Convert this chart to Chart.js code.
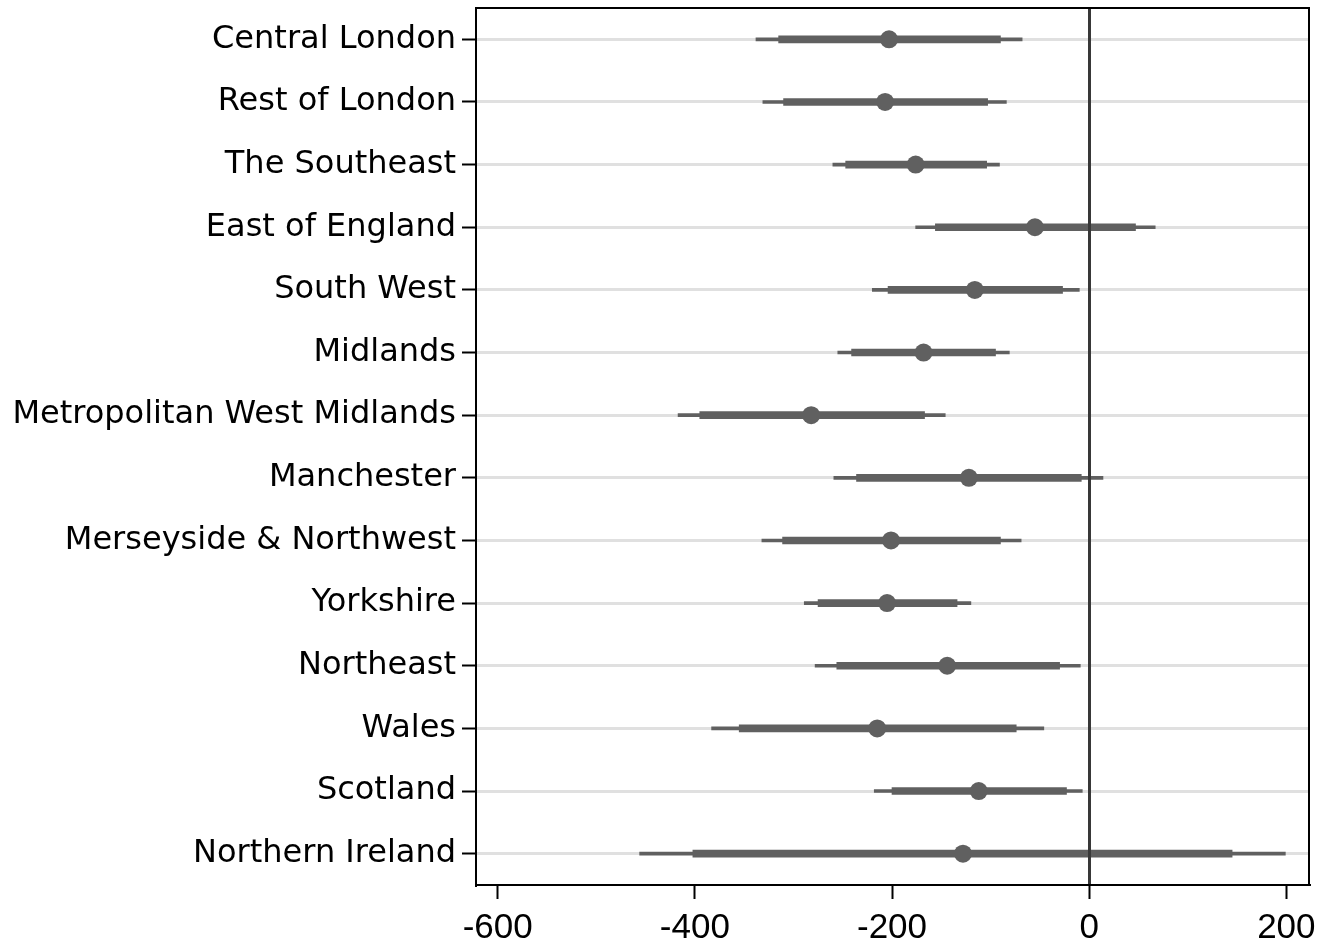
<!DOCTYPE html>
<html>
<head>
<meta charset="utf-8">
<script src="https://cdn.jsdelivr.net/npm/chart.js@4"></script>
<style>
  html, body { margin: 0; padding: 0; background: #fff; }
  #wrap { width: 1323px; height: 945px; }
</style>
</head>
<body>
<div id="wrap"><canvas id="chart"></canvas></div>
<script>
// --- data ---
const regions = ['Central London', 'Rest of London', 'The Southeast', 'East of England', 'South West',
    'Midlands', 'Metropolitan West Midlands', 'Manchester', 'Merseyside & Northwest', 'Yorkshire',
    'Northeast', 'Wales', 'Scotland', 'Northern Ireland'];
const estimate = [-203, -207, -176, -55, -116, -168, -282, -122, -201, -205, -144, -215, -112, -128];
const ci95Low  = [-338, -331, -260, -176, -220, -255, -417, -259, -332, -289, -278, -383, -218, -456];
const ci95High = [-68, -84, -91, 67, -10, -81, -146, 14, -69, -120, -9, -46, -7, 199];
const ci90Low  = [-315, -310, -247, -156, -204, -241, -395, -236, -311, -275, -256, -355, -200, -402];
const ci90High = [-90, -103, -104, 47, -27, -95, -167, -8, -90, -134, -30, -74, -23, 145];
const xTicks = [-600, -400, -200, 0, 200];

const markColor = '#606060';

// top and right edges of the plot box (left and bottom come from the axes)
const framePlugin = {
    id: 'frame',
    afterDraw(chart) {
        const { ctx, chartArea: a } = chart;
        ctx.save();
        ctx.strokeStyle = '#000';
        ctx.lineWidth = 2;
        ctx.beginPath();
        ctx.moveTo(a.left, a.top);
        ctx.lineTo(a.right, a.top);
        ctx.lineTo(a.right, a.bottom);
        ctx.stroke();
        ctx.restore();
    }
};

new Chart(document.getElementById('chart'), {
    type: 'bar',
    data: {
        labels: regions,
        datasets: [{
            type: 'scatter',
            label: 'Estimate',
            data: estimate.map((v, i) => ({ x: v, y: regions[i] })),
            pointRadius: 9,
            pointHoverRadius: 9,
            pointBackgroundColor: markColor,
            pointBorderWidth: 0,
            order: 0
        }, {
            label: '90% CI',
            data: regions.map((r, i) => [ci90Low[i], ci90High[i]]),
            backgroundColor: markColor,
            borderWidth: 0,
            barThickness: 7,
            grouped: false,
            order: 1
        }, {
            label: '95% CI',
            data: regions.map((r, i) => [ci95Low[i], ci95High[i]]),
            backgroundColor: markColor,
            borderWidth: 0,
            barThickness: 3,
            grouped: false,
            order: 2
        }]
    },
    options: {
        indexAxis: 'y',
        responsive: true,
        maintainAspectRatio: false,
        animation: false,
        layout: { autoPadding: false, padding: { top: 8, right: 14, left: 0, bottom: 0 } },
        plugins: { legend: { display: false }, tooltip: { enabled: false } },
        scales: {
            x: {
                type: 'linear',
                min: -622,
                max: 223,
                afterBuildTicks: axis => { axis.ticks = xTicks.map(v => ({ value: v })); },
                afterFit: axis => {
                    axis.height = 60;
                    axis.paddingLeft = 0;
                    axis.paddingRight = 0;
                },
                grid: {
                    z: 1,
                    color: ctx => (ctx.tick && ctx.tick.value === 0) ? '#383838' : 'rgba(0,0,0,0)',
                    lineWidth: 3,
                    drawTicks: true,
                    tickLength: 14,
                    tickColor: '#000',
                    tickWidth: 2
                },
                border: { display: true, color: '#000', width: 2, z: 2 },
                ticks: {
                    color: '#000',
                    padding: 8,
                    font: { family: 'Liberation Sans, Arial, sans-serif', size: 35 }
                }
            },
            y: {
                type: 'category',
                offset: true,
                afterFit: axis => {
                    axis.width = 476;
                    axis.paddingTop = 0;
                    axis.paddingBottom = 0;
                },
                grid: {
                    offset: false,
                    color: '#e0e0e0',
                    lineWidth: 3,
                    drawTicks: true,
                    tickLength: 14,
                    tickColor: '#000',
                    tickWidth: 2
                },
                border: { display: true, color: '#000', width: 2 },
                ticks: {
                    color: '#000',
                    padding: 6,
                    font: { family: 'DejaVu Sans, sans-serif', size: 32 }
                }
            }
        }
    },
    plugins: [framePlugin]
});
</script>
</body>
</html>
